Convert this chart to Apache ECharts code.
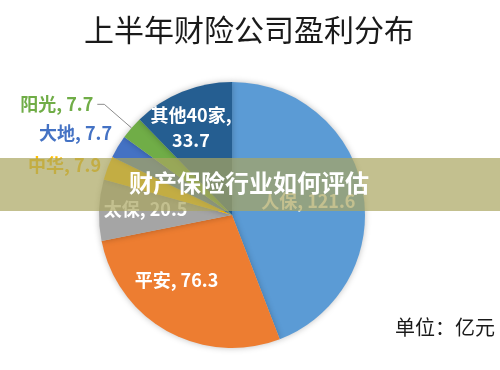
<!DOCTYPE html>
<html>
<head>
<meta charset="utf-8">
<script src="https://cdn.jsdelivr.net/npm/echarts@6/dist/echarts.min.js"></script>
<style>
  html, body { margin: 0; padding: 0; background: #fff; }
  #chart { width: 500px; height: 370px; }
</style>
</head>
<body>
<div id="chart"></div>
<script>
// 数据
const names = ['人保', '平安', '太保', '中华', '大地', '阳光', '其他40家'];
const values = [121.6, 76.3, 20.5, 7.9, 7.7, 7.7, 33.7];
const colors = ['#5B9BD5', '#ED7D31', '#A5A5A5', '#FFC000', '#4472C4', '#70AD47', '#255E91'];

const titleText = '上半年财险公司盈利分布';
const unitText = '单位：亿元';
const bannerText = '财产保险行业如何评估';

const cjk = '"Noto Sans CJK SC", sans-serif';

// 扇区内标签的微调偏移
const insideOffset = {
  '人保': [8, -1],
  '平安': [-22, 4],
  '太保': [-17, -3],
  '其他40家': [-15, -23]
};
// 外侧标签（不随扇区默认排布）
const outsideLabelPos = {
  '中华': [101, 165],
  '大地': [112, 133]
};

const pieData = names.map((n, i) => {
  const item = { name: n, value: values[i], itemStyle: { color: colors[i] } };
  if (insideOffset[n]) {
    item.label = {
      position: 'inside',
      color: '#fff',
      offset: insideOffset[n],
      formatter: n === '其他40家' ? '{b},\n{c}' : '{b}, {c}'
    };
  } else {
    item.label = {
      position: 'outside',
      color: colors[i],
      formatter: '{b}, {c}',
      distanceToLabelLine: 4
    };
    item.labelLine = n === '阳光'
      ? { show: true, length: 36, length2: 7, lineStyle: { color: '#8c8c8c', width: 1 } }
      : { show: false, length: 0, length2: 0 };
  }
  return item;
});

const chart = echarts.init(document.getElementById('chart'));
chart.setOption({
  backgroundColor: '#fff',
  animation: false,
  title: {
    text: titleText,
    left: 244,
    textAlign: 'center',
    top: 10,
    textStyle: { fontFamily: cjk, fontSize: 30, fontWeight: 'normal', color: '#1a1a1a' }
  },
  series: [{
    type: 'pie',
    center: [232, 215],
    radius: 133,
    startAngle: 90,
    avoidLabelOverlap: false,
    itemStyle: {
      shadowBlur: 6,
      shadowColor: 'rgba(0,0,0,0.25)'
    },
    label: {
      fontFamily: cjk,
      fontSize: 18,
      fontWeight: 'bold',
      lineHeight: 25
    },
    labelLayout: function (params) {
      const p = outsideLabelPos[names[params.dataIndex]];
      if (p) {
        return { x: p[0], y: p[1], align: 'right', verticalAlign: 'middle' };
      }
    },
    data: pieData
  }],
  graphic: [
    {
      type: 'text',
      right: 5,
      top: 317,
      style: { text: unitText, fontFamily: cjk, fontSize: 20, fill: '#1a1a1a' }
    },
    {
      type: 'rect',
      z: 50,
      shape: { x: 0, y: 158, width: 500, height: 53 },
      style: { fill: 'rgba(170,165,95,0.7)' }
    },
    {
      type: 'text',
      z: 51,
      left: 129,
      top: 171,
      style: { text: bannerText, fontFamily: cjk, fontSize: 24, fontWeight: 'bold', fill: '#fff' }
    }
  ]
});
</script>
</body>
</html>
